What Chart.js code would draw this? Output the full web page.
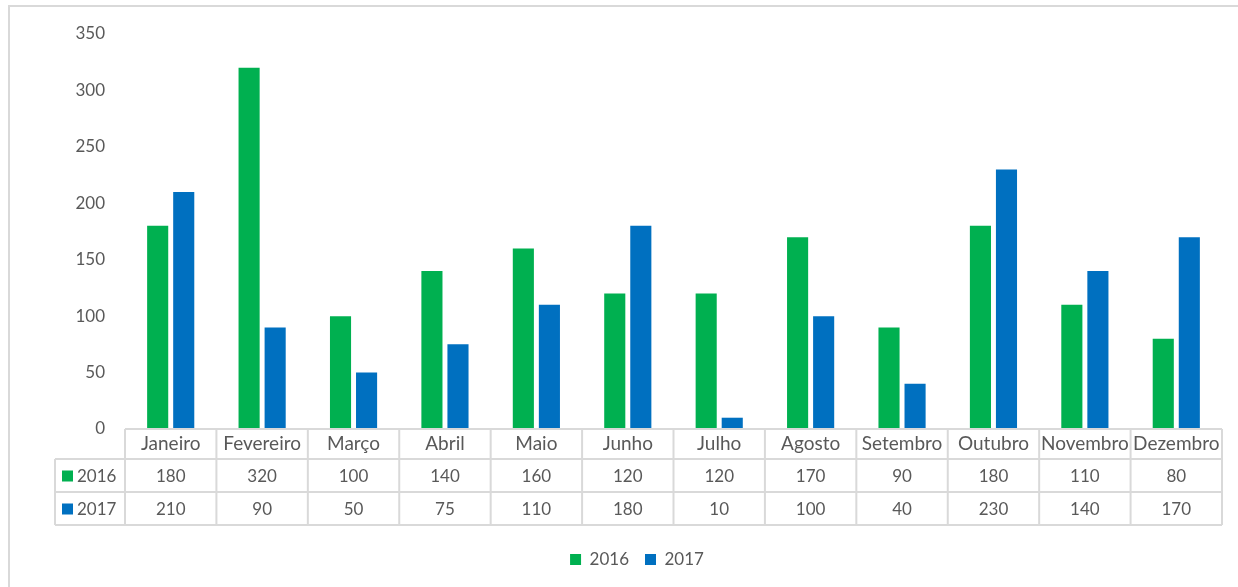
<!DOCTYPE html>
<html>
<head>
<meta charset="utf-8">
<script src="https://cdn.jsdelivr.net/npm/chart.js"></script>
<style>
  html, body { margin: 0; padding: 0; background: #fff; overflow: hidden; }
  #frame {
    position: absolute; left: 8px; top: 5px; width: 1400px; height: 800px;
    border: 2px solid #d9d9d9; box-sizing: border-box;
  }
  #wrap { position: absolute; left: 0; top: 0; width: 1238px; height: 587px; }
</style>
</head>
<body>
<div id="frame"></div>
<div id="wrap"><canvas id="chuvaChart"></canvas></div>
<script>
// Dados do gráfico
const meses = ['Janeiro', 'Fevereiro', 'Março', 'Abril', 'Maio', 'Junho',
               'Julho', 'Agosto', 'Setembro', 'Outubro', 'Novembro', 'Dezembro'];
const valores2016 = [180, 320, 100, 140, 160, 120, 120, 170, 90, 180, 110, 80];
const valores2017 = [210, 90, 50, 75, 110, 180, 10, 100, 40, 230, 140, 170];
const ticksY = [0, 50, 100, 150, 200, 250, 300, 350];

const VERDE = '#00b050';
const AZUL = '#0070c0';
const TEXTO = '#595959';
const LINHA = '#d9d9d9';
const FONTE = 'Lato, "Open Sans", sans-serif';

// Tabela de dados desenhada sob o eixo x (como no Excel)
const tabelaPlugin = {
    id: 'tabelaDados',
    afterLayout(chart) {
        // deslocar a legenda um pouco para a direita, como no original
        const lg = chart.legend;
        if (lg) { lg.left += 26; lg.right += 26; }
    },
    afterDraw(chart) {
        const ctx = chart.ctx;
        const area = chart.chartArea;
        const x = chart.scales.x;
        const larg = (area.right - area.left) / meses.length;
        const yTopo = area.bottom;
        const hCab = 30;
        const hLin = 33;
        const xRot = area.left - 70;
        const linhas = [
            { nome: '2016', cor: VERDE, dados: valores2016 },
            { nome: '2017', cor: AZUL, dados: valores2017 }
        ];

        ctx.save();
        ctx.strokeStyle = LINHA;
        ctx.lineWidth = 2;

        // linhas horizontais
        ctx.beginPath();
        ctx.moveTo(area.left, yTopo);
        ctx.lineTo(area.right, yTopo);
        for (let r = 0; r <= linhas.length; r++) {
            const yy = yTopo + hCab + r * hLin;
            ctx.moveTo(xRot, yy);
            ctx.lineTo(area.right, yy);
        }
        // linhas verticais
        const yFim = yTopo + hCab + linhas.length * hLin;
        for (let c = 0; c <= meses.length; c++) {
            const xx = area.left + c * larg;
            ctx.moveTo(xx, yTopo);
            ctx.lineTo(xx, yFim);
        }
        ctx.moveTo(xRot, yTopo + hCab);
        ctx.lineTo(xRot, yFim);
        ctx.stroke();

        ctx.fillStyle = TEXTO;
        ctx.textAlign = 'center';
        ctx.textBaseline = 'middle';

        // cabeçalho com os meses
        ctx.font = '19px ' + FONTE;
        meses.forEach((m, i) => {
            ctx.fillText(m, x.getPixelForValue(i), yTopo + hCab / 2);
        });

        // linhas de valores
        ctx.font = '17px ' + FONTE;
        linhas.forEach((lin, r) => {
            const yc = yTopo + hCab + r * hLin + hLin / 2 + 1;
            ctx.fillStyle = lin.cor;
            ctx.fillRect(xRot + 7, yc - 6, 11, 11);
            ctx.fillStyle = TEXTO;
            ctx.textAlign = 'left';
            ctx.fillText(lin.nome, xRot + 22, yc);
            ctx.textAlign = 'center';
            lin.dados.forEach((v, i) => {
                ctx.fillText(String(v), x.getPixelForValue(i), yc);
            });
        });
        ctx.restore();
    }
};

new Chart(document.getElementById('chuvaChart'), {
    type: 'bar',
    data: {
        labels: meses,
        datasets: [
            { label: '2016', data: valores2016, backgroundColor: VERDE },
            { label: '2017', data: valores2017, backgroundColor: AZUL }
        ]
    },
    options: {
        responsive: true,
        maintainAspectRatio: false,
        animation: false,
        datasets: {
            bar: { categoryPercentage: 0.57, barPercentage: 0.81 }
        },
        layout: { padding: { top: 34, right: 16, left: 0, bottom: 9 } },
        plugins: {
            tooltip: { enabled: false },
            legend: {
                position: 'bottom',
                labels: {
                    color: TEXTO,
                    font: { family: FONTE, size: 17 },
                    boxWidth: 11,
                    boxHeight: 11,
                    padding: 16
                }
            }
        },
        scales: {
            x: {
                grid: { display: false, drawTicks: false },
                border: { display: false },
                ticks: { display: false },
                afterFit(scale) { scale.height = 106; }
            },
            y: {
                min: 0,
                max: 350,
                afterBuildTicks(scale) { scale.ticks = ticksY.map(v => ({ value: v })); },
                grid: { display: false, drawTicks: false },
                border: { display: false },
                ticks: {
                    color: TEXTO,
                    font: { family: FONTE, size: 17 },
                    padding: 20
                },
                afterFit(scale) { scale.width = 125; }
            }
        }
    },
    plugins: [tabelaPlugin]
});
</script>
</body>
</html>
